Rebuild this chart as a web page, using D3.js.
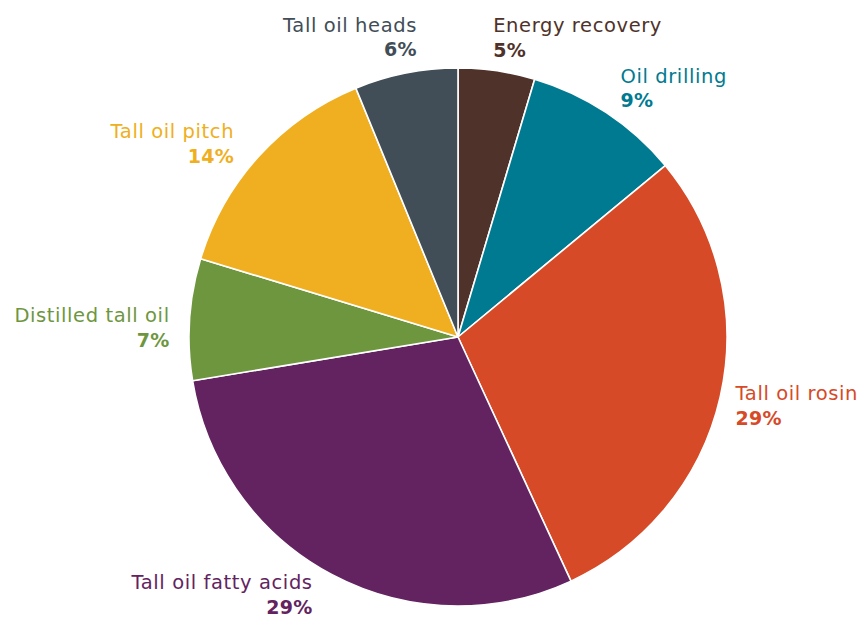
<!DOCTYPE html>
<html>
<head>
<meta charset="utf-8">
<script src="https://cdn.jsdelivr.net/npm/d3@7"></script>
<style>
  html, body { margin: 0; padding: 0; background: #ffffff; }
  svg { display: block; }
  .lbl { font-family: "DejaVu Sans", "Open Sans", sans-serif; }
</style>
</head>
<body>
<svg id="chart" width="865" height="618"></svg>
<script>
// Tall oil end uses, shares of total (percent), clockwise from 12 o'clock
const categories = ["Energy recovery", "Oil drilling", "Tall oil rosin", "Tall oil fatty acids",
                    "Distilled tall oil", "Tall oil pitch", "Tall oil heads"];
const shares = [4.6, 9.4, 29.1, 29.3, 7.3, 14.1, 6.2];
const colors = ["#4f3229", "#007a91", "#d64a27", "#632360", "#6e963e", "#efaf20", "#414d57"];

const width = 865, height = 618;
const cx = 458, cy = 337, radius = 269, labelRadius = 300;

// small hand adjustments to each label block, relative to its slice direction
const labelNudge = [[-8, -8], [-3, -4], [-15, -3], [-5, -13], [11, 5], [-2, 3], [17, -11]];

const data = categories.map((name, i) => ({ name, value: shares[i], color: colors[i], nudge: labelNudge[i] }));

const svg = d3.select("#chart");
const g = svg.append("g").attr("transform", `translate(${cx},${cy})`);

const pie = d3.pie().value(d => d.value).sort(null);
const arc = d3.arc().innerRadius(0).outerRadius(radius);
const arcs = pie(data);

g.selectAll("path.slice")
  .data(arcs)
  .join("path")
  .attr("class", "slice")
  .attr("d", arc)
  .attr("fill", d => d.data.color)
  .attr("stroke", "#ffffff")
  .attr("stroke-width", 1.6)
  .attr("stroke-linejoin", "round");

const labels = g.selectAll("g.label")
  .data(arcs)
  .join("g")
  .attr("class", "label")
  .attr("transform", d => {
    const mid = (d.startAngle + d.endAngle) / 2;
    const x = labelRadius * Math.sin(mid) + d.data.nudge[0];
    const y = -labelRadius * Math.cos(mid) + d.data.nudge[1];
    return `translate(${x},${y})`;
  });

labels.each(function(d) {
  const mid = (d.startAngle + d.endAngle) / 2;
  const anchor = mid < Math.PI ? "start" : "end";
  const sel = d3.select(this);
  sel.append("text")
    .attr("class", "lbl")
    .attr("text-anchor", anchor)
    .attr("fill", d.data.color)
    .attr("font-size", 19.5)
    .attr("letter-spacing", 0.6)
    .text(d.data.name);
  sel.append("text")
    .attr("class", "lbl")
    .attr("text-anchor", anchor)
    .attr("y", 24.5)
    .attr("fill", d.data.color)
    .attr("font-size", 19)
    .attr("font-weight", "bold")
    .attr("letter-spacing", 0.3)
    .text(Math.round(d.data.value) + "%");
});
</script>
</body>
</html>
